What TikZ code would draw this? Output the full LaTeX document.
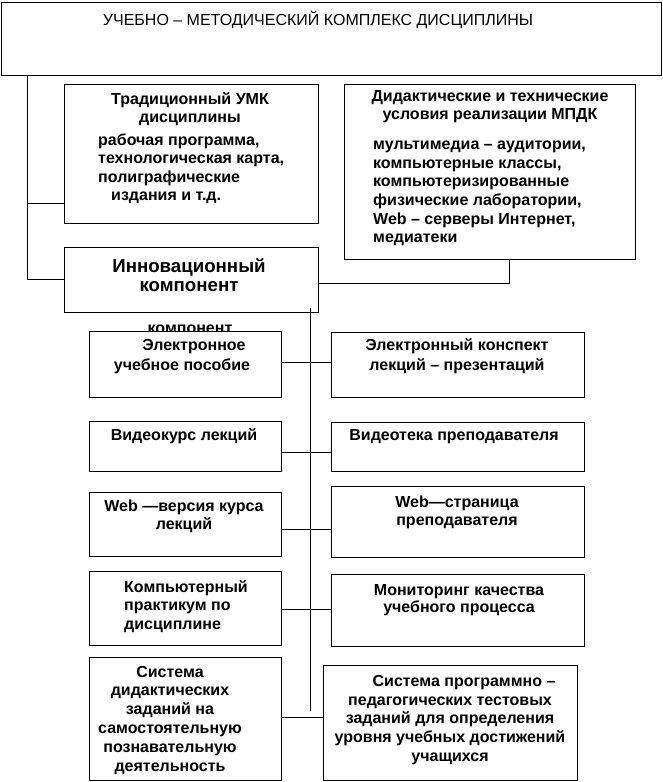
\documentclass[tikz,border=0pt]{standalone}
\usepackage{fontspec}
\setmainfont{Liberation Sans}
\usepackage{tikz}
\usetikzlibrary{positioning}
\tikzset{
	block/.style = {draw=black, line width=0.9pt, fill=white, inner sep=0pt},
	blocktext/.style = {inner sep=0pt, align=center, anchor=north, font=\bfseries\fontsize{16}{#1}\selectfont},
	blocktext/.default = 18.4,
	listtext/.style = {blocktext=#1, align=left, anchor=north west},
	listtext/.default = 18.1,
	link/.style = {line width=0.9pt},
}

\begin{document}
\begin{tikzpicture}[x=1pt, y=-1pt]
	\useasboundingbox (0,0) rectangle (662,782);

	% stray text, half covered by the box below it
	\node[font=\bfseries\fontsize{16}{18.4}\selectfont, inner sep=0pt, anchor=base] (straytxt) at (190,333) {компонент};

	% blocks
	\node[block, minimum width=660pt, minimum height=73pt] (umk) at (331,38.5) {};
	\node[block, minimum width=254pt, minimum height=139pt] (trad) at (191,153.5) {};
	\node[block, minimum width=291pt, minimum height=175pt] (didak) at (489.5,171.5) {};
	\node[block, minimum width=254pt, minimum height=65pt] (innov) at (191,279.5) {};
	\node[block, minimum width=192pt, minimum height=66pt] (elposob) at (185,364) {};
	\node[block, minimum width=253pt, minimum height=65pt] (elkonsp) at (457.5,364.5) {};
	\node[block, minimum width=192pt, minimum height=50pt] (videokurs) at (185,446) {};
	\node[block, minimum width=253pt, minimum height=49pt] (videoteka) at (457.5,446.5) {};
	\node[block, minimum width=192pt, minimum height=64pt] (webkurs) at (185,524) {};
	\node[block, minimum width=253pt, minimum height=71pt] (webpage) at (457.5,521.5) {};
	\node[block, minimum width=192pt, minimum height=74pt] (praktikum) at (185,608) {};
	\node[block, minimum width=253pt, minimum height=72pt] (monitoring) at (457.5,610) {};
	\node[block, minimum width=192pt, minimum height=123pt] (sistzad) at (185,718.5) {};
	\node[block, minimum width=254pt, minimum height=115pt] (sisttest) at (450,722.5) {};

	% texts
	\node[font=\fontsize{16}{18.4}\selectfont, inner sep=0pt, anchor=base] (umktxt) at (318,25) {УЧЕБНО – МЕТОДИЧЕСКИЙ КОМПЛЕКС ДИСЦИПЛИНЫ};
	\node[blocktext=18.5] (tradtitle) at (190,91) {\strut Традиционный УМК\\дисциплины};
	\node[listtext] (tradlist) at (98,133) {\strut рабочая программа,\\технологическая карта,\\полиграфические\\\hspace*{13pt}издания и т.д.};
	\node[blocktext=18] (didaktitle) at (490,88.4) {\strut Дидактические и технические\\условия реализации МПДК};
	\node[listtext=18.6] (didaklist) at (373,136.5) {\strut мультимедиа – аудитории,\\компьютерные классы,\\компьютеризированные\\физические лаборатории,\\Web – серверы Интернет,\\медиатеки};
	\node[blocktext, font=\bfseries\fontsize{18.67}{19.5}\selectfont] (innovtxt) at (189,258) {\strut Инновационный\\компонент};
	\node[blocktext=19.5] (elposobtxt) at (182,337) {\strut\hspace*{24pt}Электронное\\учебное пособие};
	\node[blocktext=19.5] (elkonsptxt) at (457,337) {\strut Электронный конспект\\лекций – презентаций};
	\node[blocktext] (videokurstxt) at (184,427.1) {\strut Видеокурс лекций};
	\node[blocktext] (videotekatxt) at (454,427.1) {\strut Видеотека преподавателя};
	\node[blocktext=18.3] (webkurstxt) at (184,498) {\strut Web —версия курса\\лекций};
	\node[blocktext=18.3] (webpagetxt) at (457,494.2) {\strut Web—страница\\преподавателя};
	\node[listtext=18.8] (praktikumtxt) at (124,578.8) {\strut Компьютерный\\практикум по\\дисциплине};
	\node[blocktext=17.5] (monitoringtxt) at (459,582.8) {\strut Мониторинг качества\\учебного процесса};
	\node[blocktext=18.8] (sistzadtxt) at (170,663.8) {\strut Система\\дидактических\\заданий на\\самостоятельную\\познавательную\\деятельность};
	\node[blocktext=18.6] (sisttesttxt) at (450,673.5) {\strut\hspace*{28pt}Система программно –\\педагогических тестовых\\заданий для определения\\уровня учебных достижений\\учащихся};

	% upper connectors
	\coordinate (ltrunk) at (27,203);
	\draw[link] (umk.south -| ltrunk) |- (innov.west);
	\draw[link] (ltrunk) -- (ltrunk -| trad.west);
	\coordinate (rjoin) at (509,283);
	\draw[link] (didak.south -| rjoin) |- (innov.east |- rjoin);

	% central trunk and rows
	\coordinate (ctop) at (310,308);
	\coordinate (cbot) at (310,711);
	\draw[link] (ctop) -- (cbot);
	\foreach \l/\r/\y in {elposob/elkonsp/362, videokurs/videoteka/452, webkurs/webpage/529, praktikum/monitoring/609, sistzad/sisttest/717}{
		\coordinate (row) at (310,\y);
		\draw[link] (\l.east |- row) -- (\r.west |- row);
	}
\end{tikzpicture}
\end{document}
